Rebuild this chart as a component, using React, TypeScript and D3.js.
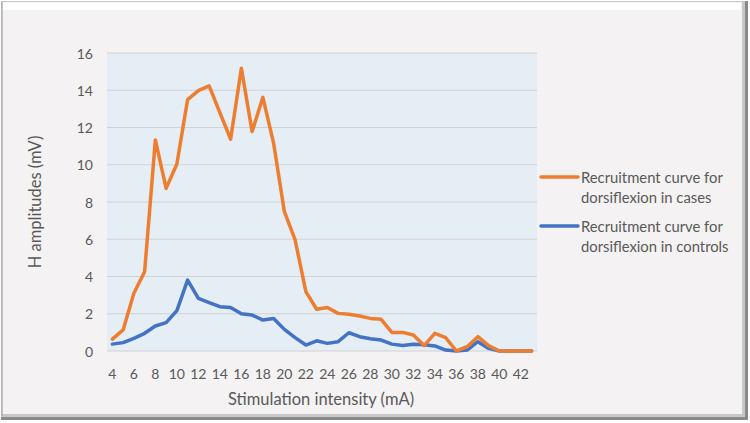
import React, { useEffect, useRef } from "react";
import * as d3 from "d3";

// stimulation intensity (mA), one point per mA
const intensities = d3.range(4, 44);
const xTickLabels = d3.range(4, 43, 2);
const yTicks = [0, 2, 4, 6, 8, 10, 12, 14, 16];

const casesValues = [
  0.64, 1.13, 3.1, 4.26, 11.33, 8.73, 10.04, 13.5, 13.98, 14.23,
  12.8, 11.37, 15.18, 11.78, 13.62, 11.15, 7.48, 5.96, 3.19, 2.24,
  2.34, 2.02, 1.97, 1.88, 1.75, 1.7, 1.0, 1.0, 0.86, 0.29,
  0.95, 0.72, 0.0, 0.23, 0.77, 0.29, 0.0, 0.0, 0.0, 0.0,
];
const controlsValues = [
  0.37, 0.45, 0.68, 0.95, 1.34, 1.52, 2.17, 3.81, 2.83, 2.6,
  2.38, 2.33, 2.0, 1.93, 1.66, 1.75, 1.16, 0.72, 0.32, 0.55,
  0.41, 0.5, 0.98, 0.77, 0.66, 0.59, 0.37, 0.29, 0.36, 0.33,
  0.27, 0.05, 0.0, 0.05, 0.5, 0.14, 0.0, 0.0, 0.0, 0.0,
];

const series = [
  { name: ["Recruitment curve for", "dorsiflexion in cases"], values: casesValues, color: "#ED7D31" },
  { name: ["Recruitment curve for", "dorsiflexion in controls"], values: controlsValues, color: "#4472C4" },
];

const W = 750;
const H = 423;
const FONT = "Lato, 'Open Sans', sans-serif";

export default function App() {
  const svgRef = useRef<SVGSVGElement | null>(null);

  useEffect(() => {
    document.body.style.margin = "0";
    const svg = d3.select(svgRef.current);
    svg.selectAll("*").remove();

    // frame with bevel
    svg.append("rect").attr("width", W).attr("height", H).attr("fill", "#ffffff");
    svg.append("rect").attr("x", 1).attr("y", 1).attr("width", 747).attr("height", 419).attr("fill", "#8a8a8a");
    svg.append("rect").attr("x", 1).attr("y", 1).attr("width", 744).attr("height", 416).attr("fill", "#c8c8c8");
    svg.append("rect").attr("x", 2).attr("y", 2).attr("width", 740).attr("height", 412).attr("fill", "#f4f2f2");
    svg.append("rect").attr("x", 3).attr("y", 3).attr("width", 738).attr("height", 7).attr("fill", "#ffffff");
    svg.append("line").attr("x1", 2).attr("x2", 2).attr("y1", 2).attr("y2", 416).attr("stroke", "#9a9a9a");

    const plot = { left: 107, right: 537, top: 53, bottom: 351 };

    const x = d3
      .scaleBand<number>()
      .domain(intensities)
      .range([plot.left, plot.right]);
    const y = d3.scaleLinear().domain([0, 16]).range([plot.bottom, plot.top]);

    svg
      .append("rect")
      .attr("x", plot.left)
      .attr("y", plot.top)
      .attr("width", plot.right - plot.left)
      .attr("height", plot.bottom - plot.top)
      .attr("fill", "#e5edf5");

    const grid = svg.append("g");
    yTicks.forEach((v) => {
      grid
        .append("line")
        .attr("x1", plot.left)
        .attr("x2", plot.right)
        .attr("y1", y(v))
        .attr("y2", y(v))
        .attr("stroke", "#d2d2d2")
        .attr("stroke-width", 1);
      svg
        .append("text")
        .attr("x", 93)
        .attr("y", y(v))
        .attr("text-anchor", "end")
        .attr("dominant-baseline", "central")
        .attr("fill", "#595959")
        .style("font", `14px ${FONT}`)
        .text(v);
    });

    xTickLabels.forEach((v) => {
      svg
        .append("text")
        .attr("x", (x(v) as number) + x.bandwidth() / 2)
        .attr("y", 373)
        .attr("text-anchor", "middle")
        .attr("dominant-baseline", "central")
        .attr("fill", "#595959")
        .style("font", `14px ${FONT}`)
        .text(v);
    });

    svg
      .append("text")
      .attr("x", 321)
      .attr("y", 399)
      .attr("text-anchor", "middle")
      .attr("dominant-baseline", "central")
      .attr("fill", "#595959")
      .style("font", `16.5px ${FONT}`)
      .text("Stimulation intensity (mA)");

    svg
      .append("text")
      .attr("transform", `translate(35,${(plot.top + plot.bottom) / 2}) rotate(-90)`)
      .attr("text-anchor", "middle")
      .attr("dominant-baseline", "central")
      .attr("fill", "#595959")
      .style("font", `16.5px ${FONT}`)
      .text("H amplitudes (mV)");

    const line = d3
      .line<number>()
      .x((_, i) => (x(intensities[i]) as number) + x.bandwidth() / 2)
      .y((d) => y(d));

    [...series].reverse().forEach((s) => {
      svg
        .append("path")
        .datum(s.values)
        .attr("d", line)
        .attr("fill", "none")
        .attr("stroke", s.color)
        .attr("stroke-width", 3.5)
        .attr("stroke-linejoin", "round")
        .attr("stroke-linecap", "round");
    });

    // legend
    series.forEach((s, i) => {
      const ly = 177 + i * 49;
      svg
        .append("line")
        .attr("x1", 541)
        .attr("x2", 578)
        .attr("y1", ly)
        .attr("y2", ly)
        .attr("stroke", s.color)
        .attr("stroke-width", 3.5)
        .attr("stroke-linecap", "round");
      s.name.forEach((t, j) => {
        svg
          .append("text")
          .attr("x", 581)
          .attr("y", ly + j * 19.5)
          .attr("dominant-baseline", "central")
          .attr("fill", "#595959")
          .style("font", `14.8px ${FONT}`)
          .text(t);
      });
    });
  }, []);

  return <svg ref={svgRef} width={W} height={H} style={{ display: "block" }} />;
}
